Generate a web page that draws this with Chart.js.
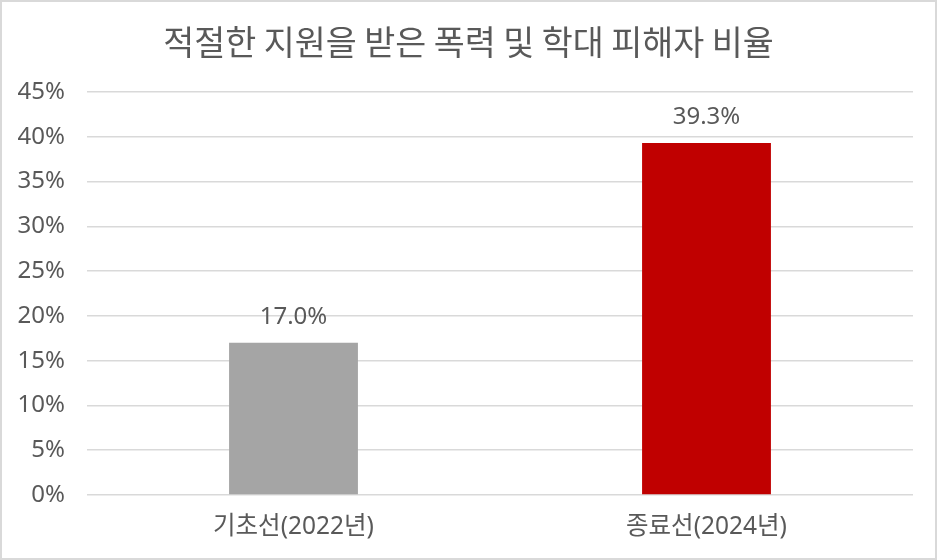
<!DOCTYPE html>
<html>
<head>
<meta charset="utf-8">
<script src="https://cdn.jsdelivr.net/npm/chart.js@4"></script>
<style>
html,body{margin:0;padding:0;background:#fff;}
#wrap{width:937px;height:560px;position:relative;}
</style>
</head>
<body>
<div id="wrap"><canvas id="c" width="937" height="560"></canvas></div>
<script>
const chartTitle = '적절한 지원을 받은 폭력 및 학대 피해자 비율';
const categories = ['기초선(2022년)', '종료선(2024년)'];
const values = [17.0, 39.3];
const barColors = ['#A5A5A5', '#C00000'];
const yTicks = [0, 5, 10, 15, 20, 25, 30, 35, 40, 45];

const FONT = "'Noto Sans', 'Noto Sans CJK KR', sans-serif";
const TITLE_FONT = "'Noto Sans CJK KR', 'Noto Sans', sans-serif";
const TEXT = '#595959';

const bgBorder = {
  id: 'bgBorder',
  beforeDraw(chart) {
    const ctx = chart.ctx;
    ctx.save();
    ctx.fillStyle = '#fff';
    ctx.fillRect(0, 0, chart.width, chart.height);
    ctx.font = '33.7px ' + TITLE_FONT;
    ctx.fillStyle = TEXT;
    ctx.textAlign = 'center';
    ctx.textBaseline = 'middle';
    ctx.fillText(chartTitle, chart.width / 2, 42);
    ctx.restore();
  },
  afterDraw(chart) {
    const ctx = chart.ctx;
    ctx.save();
    ctx.strokeStyle = '#D9D9D9';
    ctx.lineWidth = 2;
    ctx.strokeRect(1, 1, chart.width - 2, chart.height - 2);
    ctx.restore();
  }
};

const dataLabels = {
  id: 'dataLabels',
  afterDatasetsDraw(chart) {
    const ctx = chart.ctx;
    const meta = chart.getDatasetMeta(0);
    ctx.save();
    ctx.font = '24px ' + FONT;
    ctx.fillStyle = TEXT;
    ctx.textAlign = 'center';
    ctx.textBaseline = 'alphabetic';
    meta.data.forEach((bar, i) => {
      ctx.fillText(values[i].toFixed(1) + '%', bar.x, bar.y - 19);
    });
    ctx.restore();
  }
};

new Chart(document.getElementById('c'), {
  type: 'bar',
  data: {
    labels: categories,
    datasets: [{
      data: values,
      backgroundColor: barColors,
      categoryPercentage: 1,
      barPercentage: 0.312
    }]
  },
  options: {
    responsive: false,
    animation: false,
    layout: { padding: { left: 0, right: 24, bottom: 15, top: 92 } },
    plugins: {
      legend: { display: false },
      tooltip: { enabled: false },
      title: { display: false }
    },
    scales: {
      x: {
        afterFit(scale) { scale.height = 50; },
        grid: { display: false, drawTicks: false },
        border: { display: false },
        ticks: {
          color: TEXT,
          font: { family: FONT, size: 24.5 },
          padding: 17
        }
      },
      y: {
        min: 0,
        max: 45,
        afterFit(scale) { scale.width = 87; },
        afterBuildTicks(scale) { scale.ticks = yTicks.map(v => ({ value: v })); },
        grid: { color: '#D9D9D9', lineWidth: 1.5, drawTicks: false },
        border: { display: false },
        ticks: {
          color: TEXT,
          font: { family: FONT, size: 24 },
          padding: 22,
          callback: v => v + '%'
        }
      }
    }
  },
  plugins: [bgBorder, dataLabels]
});
</script>
</body>
</html>
